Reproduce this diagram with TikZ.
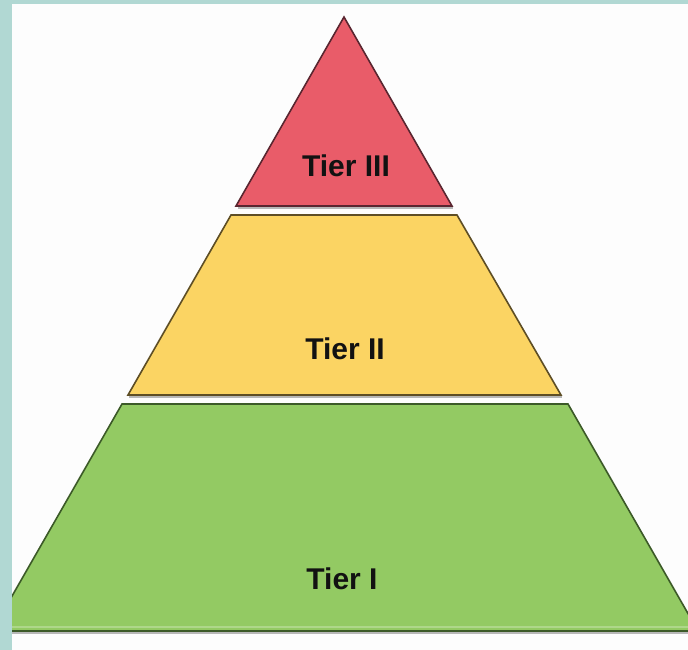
\documentclass[tikz,border=0pt]{standalone}
\usepackage{fontspec}
\setmainfont{Liberation Sans}
\definecolor{teal}{HTML}{B1D8D3}
\definecolor{bgwhite}{HTML}{FDFDFD}
\definecolor{redfill}{HTML}{E95C69}
\definecolor{redline}{HTML}{5A2630}
\definecolor{yelfill}{HTML}{FBD463}
\definecolor{yelline}{HTML}{5E4E25}
\definecolor{grnfill}{HTML}{93CA63}
\definecolor{grnline}{HTML}{3C5A28}
\definecolor{txt}{HTML}{121212}
\tikzset{
  tier/.style={line width=1.6pt, line join=miter},
  shadowline/.style={draw=black!28, line width=2.5pt},
  label/.style={font=\bfseries\fontsize{30}{36}\selectfont, text=txt, inner sep=0pt, anchor=center}
}
\begin{document}
\begin{tikzpicture}[x=1pt,y=-1pt]
\useasboundingbox (0,0) rectangle (688,650);
\fill[teal] (0,0) rectangle (688,650);
\fill[bgwhite] (12,4) rectangle (688,650);
\begin{scope}
\clip (12,4) rectangle (688,650);
% shadows
\draw[shadowline] (238,207.8) -- (453,207.8);
\draw[shadowline] (129,396.8) -- (562,396.8);
\draw[shadowline] (0,632.8) -- (688,632.8);
% Tier III
\coordinate (apex) at (344,17);
\coordinate (t3bl) at (236,206);
\coordinate (t3br) at (452,206);
\filldraw[tier, fill=redfill, draw=redline] (apex) -- (t3br) -- (t3bl) -- cycle;
% Tier II
\coordinate (t2tl) at (231,215);
\coordinate (t2tr) at (457,215);
\coordinate (t2bl) at (128,395);
\coordinate (t2br) at (561,395);
\filldraw[tier, fill=yelfill, draw=yelline] (t2tl) -- (t2tr) -- (t2br) -- (t2bl) -- cycle;
% Tier I
\coordinate (t1tl) at (122,404);
\coordinate (t1tr) at (568,404);
\coordinate (t1bl) at (-8,631);
\coordinate (t1br) at (698,631);
\filldraw[tier, fill=grnfill, draw=grnline] (t1tl) -- (t1tr) -- (t1br) -- (t1bl) -- cycle;
\draw[grnfill!75!white, line width=2pt] (0,627) -- (688,627);
\draw[grnline, line width=2.2pt] (t1bl) -- (t1br);
\end{scope}
\node[label] (l3) at (346,166) {Tier III};
\node[label] (l2) at (345,349) {Tier II};
\node[label] (l1) at (342,579) {Tier I};
\end{tikzpicture}
\end{document}
